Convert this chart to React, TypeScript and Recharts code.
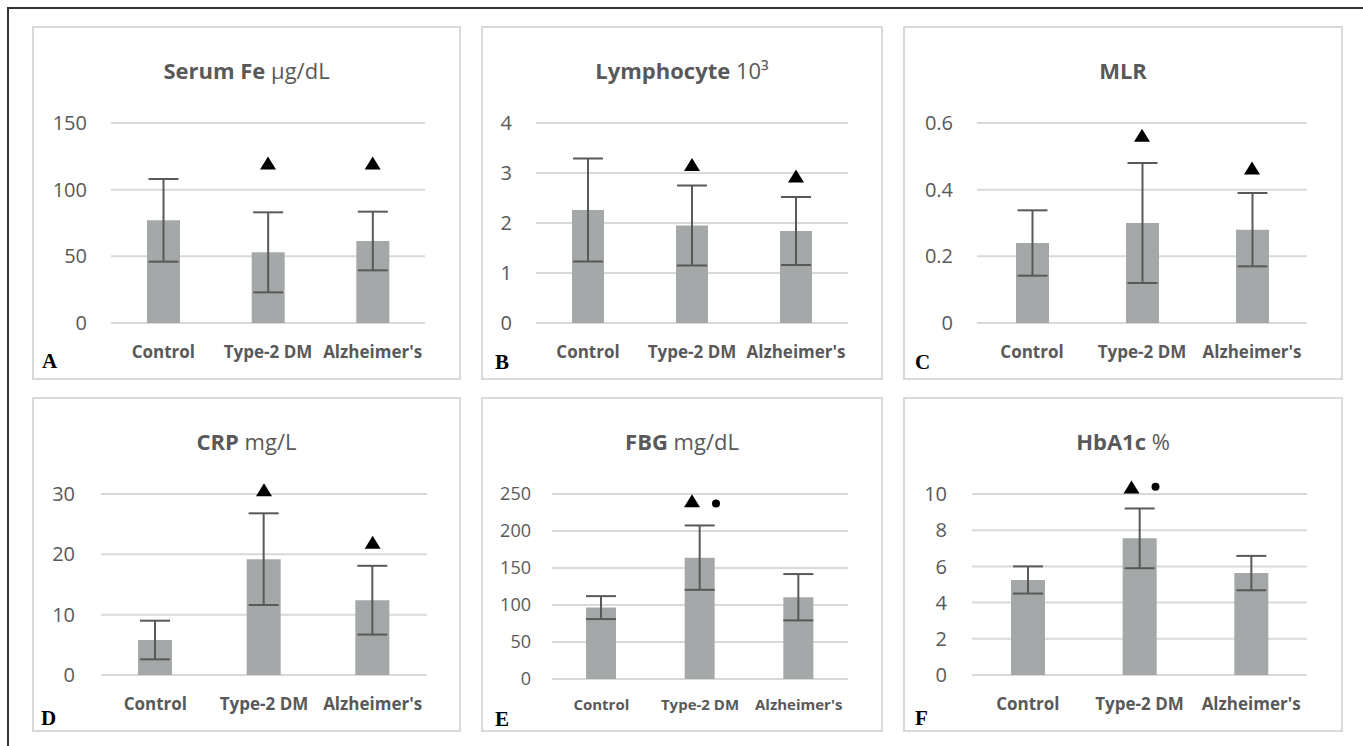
import React from 'react';
import { ComposedChart, Bar, ErrorBar, ReferenceDot, XAxis, YAxis, CartesianGrid } from 'recharts';

// groups on the x axis
const groups = ['Control', 'Type-2 DM', "Alzheimer's"];

// A: Serum Fe
const feMean = [77, 53, 61.5];
const feSd = [31, 30, 22];
const feTri = [null, 120, 120];

// B: Lymphocyte
const lymMean = [2.26, 1.95, 1.84];
const lymSd = [1.03, 0.8, 0.68];
const lymTri = [null, 3.17, 2.94];

// C: MLR
const mlrMean = [0.24, 0.3, 0.28];
const mlrSd = [0.098, 0.18, 0.11];
const mlrTri = [null, 0.563, 0.465];

// D: CRP
const crpMean = [5.8, 19.2, 12.4];
const crpSd = [3.2, 7.6, 5.7];
const crpTri = [null, 30.7, 22];

// E: FBG
const fbgMean = [96.5, 164, 110.5];
const fbgSd = [15.5, 43.5, 31.3];
const fbgTri = [null, 241, null];
const fbgDot = [null, 237, null];

// F: HbA1c
const hbaMean = [5.25, 7.55, 5.63];
const hbaSd = [0.75, 1.65, 0.95];
const hbaTri = [null, 10.39, null];
const hbaDot = [null, 10.4, null];

const feTicks = [0, 50, 100, 150];
const lymTicks = [0, 1, 2, 3, 4];
const mlrTicks = [0, 0.2, 0.4, 0.6];
const crpTicks = [0, 10, 20, 30];
const fbgTicks = [0, 50, 100, 150, 200, 250];
const hbaTicks = [0, 2, 4, 6, 8, 10];

const BAR = '#a5a8a8';
const INK = '#595959';
const GRID = '#d9d9d9';
const FONT = '"Open Sans", sans-serif';

function rows(mean: number[], sd: number[], tri: (number | null)[], dot?: (number | null)[]) {
  return groups.map((name, i) => ({
    name,
    mean: mean[i],
    sd: sd[i],
    tri: tri[i],
    dot: dot ? dot[i] : null,
  }));
}

const triShape = (dx: number) => (props: any) => {
  const { cx, cy } = props;
  if (!Number.isFinite(cx) || !Number.isFinite(cy)) return <g />;
  const x = cx + dx;
  return <polygon points={`${x - 8},${cy + 6.5} ${x + 8},${cy + 6.5} ${x},${cy - 6.5}`} fill="#000" />;
};

const dotShape = (dx: number) => (props: any) => {
  const { cx, cy } = props;
  if (!Number.isFinite(cx) || !Number.isFinite(cy)) return <g />;
  return <circle cx={cx + dx} cy={cy} r={4} fill="#000" />;
};

const panels = [
  {
    letter: 'A', bold: 'Serum Fe', light: ' μg/dL', data: rows(feMean, feSd, feTri),
    domain: [0, 150], ticks: feTicks, box: [32, 26, 429, 354], plot: [111, 425, 123, 323],
    barSize: 33, tickGap: 24, catGap: 23, tickFont: 20, catFont: 17, triDx: 0, letterAt: [10, 325],
  },
  {
    letter: 'B', bold: 'Lymphocyte', light: ' 10³', data: rows(lymMean, lymSd, lymTri),
    domain: [0, 4], ticks: lymTicks, box: [481, 26, 402, 354], plot: [536, 848, 123, 323],
    barSize: 32, tickGap: 24, catGap: 23, tickFont: 20, catFont: 17, triDx: 0, letterAt: [14, 326],
  },
  {
    letter: 'C', bold: 'MLR', light: '', data: rows(mlrMean, mlrSd, mlrTri),
    domain: [0, 0.6], ticks: mlrTicks, box: [903, 26, 440, 354], plot: [977, 1307, 123, 323],
    barSize: 33, tickGap: 24, catGap: 23, tickFont: 20, catFont: 17, triDx: 0, letterAt: [12, 326],
  },
  {
    letter: 'D', bold: 'CRP', light: ' mg/L', data: rows(crpMean, crpSd, crpTri),
    domain: [0, 30], ticks: crpTicks, box: [32, 397, 429, 335], plot: [101, 427, 494, 675],
    barSize: 34, tickGap: 26, catGap: 23, tickFont: 20, catFont: 17, triDx: 0, letterAt: [9, 311],
  },
  {
    letter: 'E', bold: 'FBG', light: ' mg/dL', data: rows(fbgMean, fbgSd, fbgTri, fbgDot),
    domain: [0, 250], ticks: fbgTicks, box: [481, 397, 402, 335], plot: [552, 848, 494, 679],
    barSize: 30, tickGap: 21, catGap: 20, tickFont: 18, catFont: 15, triDx: -8, letterAt: [14, 312],
  },
  {
    letter: 'F', bold: 'HbA1c', light: ' %', data: rows(hbaMean, hbaSd, hbaTri, hbaDot),
    domain: [0, 10], ticks: hbaTicks, box: [903, 397, 440, 335], plot: [972, 1307, 494, 675],
    barSize: 34, tickGap: 25, catGap: 23, tickFont: 20, catFont: 17, triDx: -8, letterAt: [12, 311],
  },
];

function Panel({ cfg }: { cfg: any }) {
  const [bx, by, bw, bh] = cfg.box;
  const [px0, px1, py0, py1] = cfg.plot;
  const yW = 50;
  const xH = 40;
  const margin = {
    top: py0 - by,
    right: bx + bw - px1,
    bottom: by + bh - py1 - xH,
    left: px0 - bx - yW,
  };

  return (
    <div style={{ position: 'absolute', left: bx, top: by, width: bw, height: bh, background: '#fff' }}>
      <div
        style={{
          position: 'absolute', inset: 0, border: `2px solid ${GRID}`, boxSizing: 'border-box',
        }}
      />
      <div style={{ position: 'absolute', left: 0, top: 0 }}>
        <ComposedChart width={bw} height={bh} data={cfg.data} margin={margin}>
          <CartesianGrid vertical={false} stroke={GRID} strokeWidth={2} />
          <XAxis
            dataKey="name"
            axisLine={false}
            tickLine={false}
            tickSize={0}
            tickMargin={cfg.catGap}
            height={xH}
            interval={0}
            tick={{ fill: INK, fontSize: cfg.catFont, fontWeight: 700, fontFamily: FONT }}
          />
          <YAxis
            width={yW}
            domain={cfg.domain}
            ticks={cfg.ticks}
            axisLine={false}
            tickLine={false}
            tickSize={0}
            tickMargin={cfg.tickGap}
            interval={0}
            tick={{ fill: INK, fontSize: cfg.tickFont, fontFamily: FONT }}
          />
          <Bar dataKey="mean" fill={BAR} barSize={cfg.barSize} isAnimationActive={false}>
            <ErrorBar dataKey="sd" width={15} stroke={INK} strokeWidth={2} direction="y" />
          </Bar>
          {cfg.data
            .filter((d: any) => d.tri != null)
            .map((d: any) => (
              <ReferenceDot
                key={`t-${d.name}`}
                x={d.name}
                y={d.tri}
                ifOverflow="visible"
                shape={triShape(cfg.triDx)}
              />
            ))}
          {cfg.data
            .filter((d: any) => d.dot != null)
            .map((d: any) => (
              <ReferenceDot
                key={`d-${d.name}`}
                x={d.name}
                y={d.dot}
                ifOverflow="visible"
                shape={dotShape(16)}
              />
            ))}
        </ComposedChart>
      </div>
      <div
        style={{
          position: 'absolute', left: 0, top: 30, width: bw, textAlign: 'center',
          fontFamily: FONT, fontSize: 22, lineHeight: '28px', color: INK, whiteSpace: 'nowrap',
        }}
      >
        <span style={{ fontWeight: 700 }}>{cfg.bold}</span>
        <span>{cfg.light}</span>
      </div>
      <div
        style={{
          position: 'absolute', left: cfg.letterAt[0], top: cfg.letterAt[1],
          fontFamily: '"Liberation Serif", "Times New Roman", serif', fontWeight: 700,
          fontSize: 21, lineHeight: 1, color: '#000',
        }}
      >
        {cfg.letter}
      </div>
    </div>
  );
}

export default function App() {
  return (
    <div style={{ position: 'absolute', left: 0, top: 0, width: 1363, height: 746, background: '#fff', overflow: 'hidden' }}>
      <div
        style={{
          position: 'absolute', left: 7, top: 7, width: 1400, height: 800,
          borderTop: '2px solid #333', borderLeft: '2px solid #333',
        }}
      />
      {panels.map((p) => (
        <Panel key={p.letter} cfg={p} />
      ))}
    </div>
  );
}
